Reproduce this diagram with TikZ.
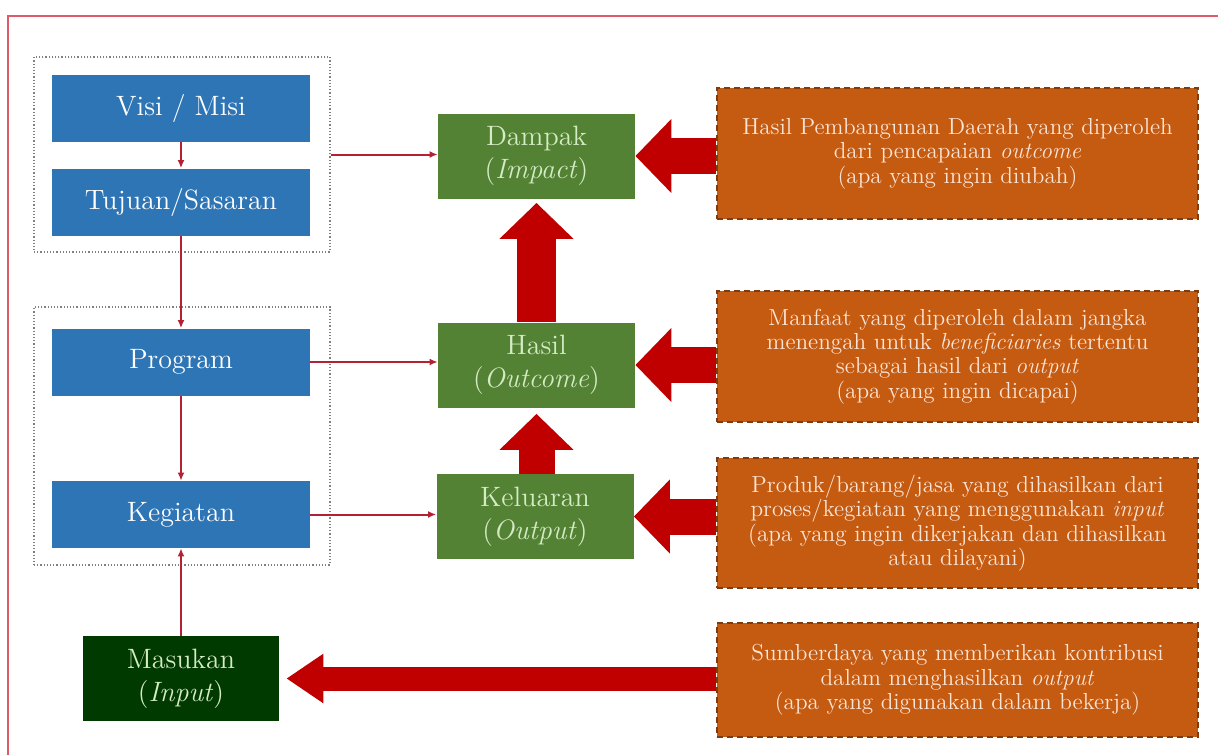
\documentclass[tikz,border=0pt]{standalone}
\usepackage{xcolor}
\usepackage{tikz}
\usetikzlibrary{arrows, arrows.meta, calc}

\definecolor{blueA}{HTML}{2E75B6}
\definecolor{greenA}{HTML}{548235}
\definecolor{greenD}{HTML}{003A00}
\definecolor{orangeA}{HTML}{C55A11}
\definecolor{orangeD}{HTML}{7F3B10}
\definecolor{redA}{HTML}{C00000}
\definecolor{redT}{HTML}{B22234}
\definecolor{frameR}{HTML}{E05A6A}
\definecolor{textG}{HTML}{D4EBC4}
\definecolor{textO}{HTML}{FBE5D6}

\begin{document}
\begin{tikzpicture}[x=0.5pt, y=-0.5pt, every node/.style={inner sep=0pt, align=center},
  group/.style={draw=gray, densely dotted, line width=0.6pt, minimum width=148pt},
  blockblue/.style={fill=blueA, text=white, minimum width=129pt, minimum height=33.5pt, font=\fontsize{14}{16.5}\selectfont},
  blockgreen/.style={fill=greenA, text=textG, minimum width=98.5pt, minimum height=42.5pt, font=\fontsize{14}{16.5}\selectfont},
  blockinput/.style={fill=greenD, text=textG, minimum width=98pt, minimum height=42.5pt, font=\fontsize{14}{16.5}\selectfont},
  note/.style={fill=orangeA, draw=orangeD, densely dashed, line width=0.6pt, text=textO, minimum width=240.5pt, font=\fontsize{11.6}{12.2}\selectfont},
  link/.style={draw=redT, line width=1pt, -{Latex[length=4pt, width=3.5pt]}},
  bigarrow/.style={draw=redA, line width=18pt, -{Triangle[length=18pt, width=36pt]}}]
\useasboundingbox (0,0) rectangle (1218,755);
\fill[white] (0,0) rectangle (1218,755);
\draw[frameR, line width=1.2pt] (8,755) -- (8,16) -- (1218,16);

\node(g1)[group, minimum height=97.5pt] at (182,154.5) {};
\node(g2)[group, minimum height=129pt] at (182,436) {};

\node(visi)[blockblue] at (181,108) {Visi / Misi};
\node(tujuan)[blockblue] at (181,202) {Tujuan/Sasaran};
\node(program)[blockblue] at (181,362) {Program};
\node(kegiatan)[blockblue] at (181,514.5) {Kegiatan};
\node(masukan)[blockinput] at (181,678.5) {Masukan\\(\textit{Input})};

\node(dampak)[blockgreen] at (536.5,156) {Dampak\\(\textit{Impact})};
\node(hasil)[blockgreen] at (536.5,365) {Hasil\\(\textit{Outcome})};
\node(keluaran)[blockgreen] at (535,516.5) {Keluaran\\(\textit{Output})};

\node(n1)[note, minimum height=65.5pt] at (957.5,153.5) {Hasil Pembangunan Daerah yang diperoleh\\dari pencapaian \textit{outcome}\\(apa yang ingin diubah)};
\node(n2)[note, minimum height=65.5pt] at (957.5,356.5) {Manfaat yang diperoleh dalam jangka\\menengah untuk \textit{beneficiaries} tertentu\\sebagai hasil dari \textit{output}\\(apa yang ingin dicapai)};
\node(n3)[note, minimum height=65pt] at (957.5,523) {Produk/barang/jasa yang dihasilkan dari\\proses/kegiatan yang menggunakan \textit{input}\\(apa yang ingin dikerjakan dan dihasilkan\\atau dilayani)};
\node(n4)[note, minimum height=57pt] at (957.5,680) {Sumberdaya yang memberikan kontribusi\\dalam menghasilkan \textit{output}\\(apa yang digunakan dalam bekerja)};

\draw[link] (visi) -- (tujuan);
\draw[link] (tujuan) -- (program);
\draw[link] (program) -- (kegiatan);
\draw[link] (masukan) -- (kegiatan);
\draw[link] (g1.east) -- (g1.east -| dampak.west);
\draw[link] (program.east) -- (program.east -| hasil.west);
\draw[link] (kegiatan.east) -- (kegiatan.east -| keluaran.west);

\draw[bigarrow] (n1.west |- dampak.east) -- (dampak.east);
\draw[bigarrow] (n2.west |- hasil.east) -- (hasil.east);
\draw[bigarrow] (n3.west |- keluaran.east) -- (keluaran.east);
\draw[bigarrow, line width=12pt, -{Triangle[length=18.5pt, width=23.5pt]}] (n4.west |- masukan.east) -- ([xshift=3.5pt]masukan.east);
\draw[bigarrow, line width=19.5pt] (hasil.north) -- ([yshift=-2pt]dampak.south);
\draw[bigarrow] (hasil.south |- keluaran.north) -- ([yshift=-3pt]hasil.south);
\end{tikzpicture}
\end{document}
